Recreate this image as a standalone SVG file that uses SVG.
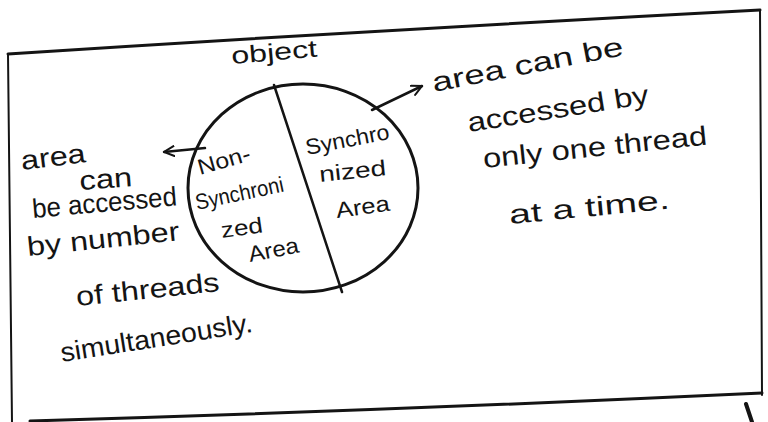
<svg xmlns="http://www.w3.org/2000/svg" width="768" height="422" viewBox="0 0 768 422">
<style>
.ink{fill:none;stroke:#141414;stroke-linecap:round;stroke-linejoin:round}
.t{font-family:"Liberation Sans",Arial,sans-serif;fill:#141414;font-size:27px}
.s{font-size:22px}
</style>
<defs>
<marker id="ah" viewBox="0 0 12 12" refX="11" refY="6" markerWidth="12" markerHeight="12" markerUnits="userSpaceOnUse" orient="auto">
<path d="M1,1 L11,6 L1,11" fill="none" stroke="#141414" stroke-width="2" stroke-linecap="round"/>
</marker>
</defs>
<rect width="768" height="422" fill="#ffffff"/>
<g id="frame">
<path class="ink" stroke-width="3" d="M8,54 Q380,30 760,10"/>
<path class="ink" stroke-width="2" d="M8,54 L12,422"/>
<path class="ink" stroke-width="2" d="M760,10 L762,395"/>
<path class="ink" stroke-width="3" d="M30,421 Q400,410 762,393"/>
<path class="ink" stroke-width="4" d="M746,404 L752,422"/>
</g>
<g id="object">
<text class="t" x="232" y="64" transform="rotate(-5 232 64)" textLength="86" lengthAdjust="spacingAndGlyphs" style="font-size:24px">object</text>
<ellipse class="ink" stroke-width="3" cx="303" cy="188" rx="115" ry="104"/>
<path class="ink" stroke-width="2.5" d="M274,85 L342,292"/>
</g>
<g id="non-synchronized-area">
<text class="t s" x="200" y="175" transform="rotate(-16 200 175)" textLength="54" lengthAdjust="spacingAndGlyphs">Non-</text>
<text class="t s" x="197" y="210" transform="rotate(-12 197 210)" textLength="90" lengthAdjust="spacingAndGlyphs">Synchroni</text>
<text class="t s" x="222" y="238" transform="rotate(-8 222 238)" textLength="42" lengthAdjust="spacingAndGlyphs">zed</text>
<text class="t s" x="250" y="262" transform="rotate(-11 250 262)" textLength="51" lengthAdjust="spacingAndGlyphs">Area</text>
</g>
<g id="synchronized-area">
<text class="t s" x="307" y="155" transform="rotate(-11 307 155)" textLength="85" lengthAdjust="spacingAndGlyphs">Synchro</text>
<text class="t s" x="320" y="182" transform="rotate(-6 320 182)" textLength="67" lengthAdjust="spacingAndGlyphs">nized</text>
<text class="t s" x="337" y="218" transform="rotate(-8 337 218)" textLength="54" lengthAdjust="spacingAndGlyphs">Area</text>
</g>
<g id="left-note">
<text class="t" x="22" y="170" transform="rotate(-7 22 170)" textLength="65" lengthAdjust="spacingAndGlyphs">area</text>
<text class="t" x="80" y="190" transform="rotate(-4 80 190)" textLength="53" lengthAdjust="spacingAndGlyphs">can</text>
<text class="t" x="33" y="218" transform="rotate(-5 33 218)" textLength="145" lengthAdjust="spacingAndGlyphs">be accessed</text>
<text class="t" x="28" y="256" transform="rotate(-6 28 256)" textLength="153" lengthAdjust="spacingAndGlyphs">by number</text>
<text class="t" x="77" y="306" transform="rotate(-6 77 306)" textLength="144" lengthAdjust="spacingAndGlyphs">of threads</text>
<text class="t" x="62" y="362" transform="rotate(-9 62 362)" textLength="194" lengthAdjust="spacingAndGlyphs">simultaneously.</text>
</g>
<g id="right-note">
<text class="t" x="434" y="92" transform="rotate(-11 434 92)" textLength="194" lengthAdjust="spacingAndGlyphs">area can be</text>
<text class="t" x="469" y="132" transform="rotate(-9 469 132)" textLength="183" lengthAdjust="spacingAndGlyphs">accessed by</text>
<text class="t" x="484" y="168" transform="rotate(-6 484 168)" textLength="225" lengthAdjust="spacingAndGlyphs">only one thread</text>
<text class="t" x="510" y="224" transform="rotate(-5.5 510 224)" textLength="161" lengthAdjust="spacingAndGlyphs">at a time.</text>
</g>
<g id="connectors">
<path class="ink" stroke-width="2.5" d="M205,148 L164,152" marker-end="url(#ah)"/>
<path class="ink" stroke-width="2.5" d="M372,110 L422,86" marker-end="url(#ah)"/>
</g>
</svg>
